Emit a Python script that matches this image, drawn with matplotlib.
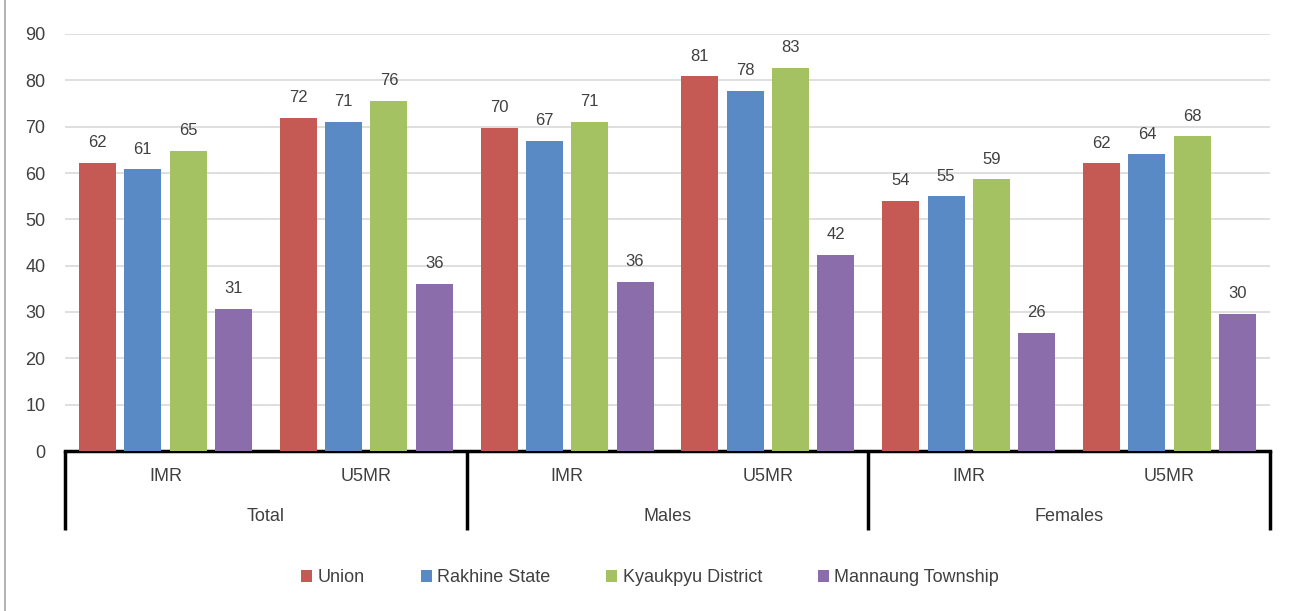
import numpy as np
import matplotlib.pyplot as plt
from matplotlib.lines import Line2D

plt.rcParams['font.family'] = ['Liberation Sans', 'DejaVu Sans']

groups = ['Total', 'Males', 'Females']
indicators = ['IMR', 'U5MR']
series_names = ['Union', 'Rakhine State', 'Kyaukpyu District', 'Mannaung Township']
union = [62.2, 71.9, 69.8, 80.9, 54.0, 62.1]
rakhine = [60.8, 71.1, 67.0, 77.8, 55.0, 64.0]
kyaukpyu = [64.8, 75.6, 71.1, 82.7, 58.6, 67.9]
mannaung = [30.7, 36.1, 36.5, 42.4, 25.5, 29.6]
colours = ['#C55A55', '#5A8AC6', '#A5C263', '#8B6DAB']

text_col = '#404040'
fig = plt.figure(figsize=(12.9, 6.11), dpi=100)
ax = fig.add_axes([65 / 1290, 1 - 451 / 611, (1270 - 65) / 1290, (451 - 34) / 611])

x = np.arange(6)
width = 0.184
step = 0.2256
all_series = [union, rakhine, kyaukpyu, mannaung]
for i, (vals, name, col) in enumerate(zip(all_series, series_names, colours)):
    pos = x + (i - 1.5) * step
    ax.bar(pos, vals, width, color=col, label=name, zorder=3)
    for px, v in zip(pos, vals):
        ax.text(px, v + 2.7, f"{v:.0f}", ha='center', va='bottom', fontsize=12, color=text_col)

ax.set_xlim(-0.5, 5.5)
ax.set_ylim(0, 90)
ax.set_yticks(range(0, 91, 10))
ax.tick_params(axis='y', length=0, labelsize=13, labelcolor=text_col, pad=14)
ax.set_xticks([])
ax.grid(axis='y', color='#D9D9D9', linewidth=1.2, zorder=0)
for s in ['top', 'right', 'left']:
    ax.spines[s].set_visible(False)
ax.spines['bottom'].set_linewidth(2.5)
ax.spines['bottom'].set_color('black')

# category axis: indicators and groups
tr = ax.get_xaxis_transform()
for k in range(6):
    ax.text(k, -0.062, indicators[k % 2], transform=tr, ha='center', va='center',
            fontsize=13, color=text_col)
for g, name in enumerate(groups):
    ax.text(2 * g + 0.5, -0.158, name, transform=tr, ha='center', va='center',
            fontsize=13, color=text_col)
for d in [-0.5, 1.5, 3.5, 5.5]:
    ax.plot([d, d], [0, -0.19], transform=tr, color='black', lw=2.5, clip_on=False,
            solid_capstyle='butt')

fig.legend(loc='center', bbox_to_anchor=(0.504, 1 - 578 / 611), ncol=4, frameon=False,
           fontsize=13, handlelength=0.6, handleheight=0.6, handletextpad=0.3,
           columnspacing=3.1, labelcolor=text_col)

fig.add_artist(Line2D([5 / 1290, 5 / 1290], [0, 1], color='#A6A6A6', lw=1.2))

fig.savefig('out.png', dpi=100)
